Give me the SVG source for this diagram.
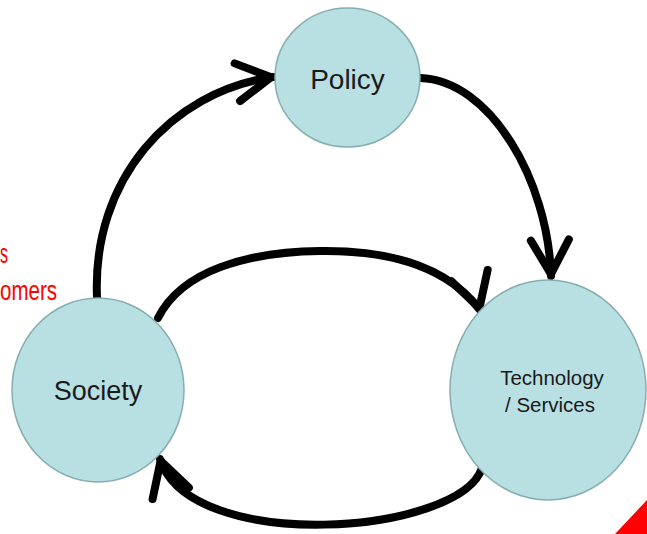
<svg xmlns="http://www.w3.org/2000/svg" width="647" height="534" viewBox="0 0 647 534">
<style>
.node{fill:#b8dfe2;stroke:#86aeb0;stroke-width:1.5}
.lbl{font-family:"Liberation Sans",Arial,sans-serif;fill:#1a1a1a;text-anchor:middle}
.conn{fill:none;stroke:#000;stroke-width:8;stroke-linecap:round}
.red{font-family:"Liberation Sans",Arial,sans-serif;fill:#ff0000;font-size:28px;text-anchor:end}
.head{fill:none;stroke:#000;stroke-width:8;stroke-linecap:round;stroke-linejoin:miter}
</style>
<defs>
<marker id="arr" markerUnits="userSpaceOnUse" markerWidth="100" markerHeight="100" viewBox="-50 -50 100 100" refX="0" refY="0" orient="auto" overflow="visible">
<path class="head" d="M-36,-19 L-2,0 L-36,19"/>
</marker>
<marker id="arr73" markerUnits="userSpaceOnUse" markerWidth="100" markerHeight="100" viewBox="-50 -50 100 100" refX="0" refY="0" orient="73" overflow="visible">
<path class="head" d="M-36,-19 L-2,0 L-36,19"/>
</marker>
</defs>
<rect width="647" height="534" fill="#fff"/>
<g id="connectors">
<path class="conn" d="M97,297 C92,180 170,92 273,77" marker-end="url(#arr)"/>
<path class="conn" d="M420,78 C490,80 548,180 551,276" marker-end="url(#arr)"/>
<path class="conn" d="M158,318 C182,270 248,252 320,251 C396,250 450,270 480,310" marker-end="url(#arr73)"/>
<path class="conn" d="M482,468 C460,535 190,555 160,459" marker-end="url(#arr)"/>
</g>
<g id="policy">
<ellipse class="node" cx="347.5" cy="77.5" rx="72.5" ry="69.5"/>
<text class="lbl" x="347.5" y="89" font-size="28">Policy</text>
</g>
<g id="society">
<ellipse class="node" cx="98" cy="390" rx="86" ry="92"/>
<text class="lbl" x="98" y="400" font-size="27">Society</text>
</g>
<g id="technology">
<ellipse class="node" cx="548" cy="390" rx="98" ry="110"/>
<text class="lbl" x="552" y="385" font-size="20.5">Technology</text>
<text class="lbl" x="550" y="412" font-size="20.5">/ Services</text>
</g>
<g id="side-text">
<text class="red" x="8" y="263" textLength="8" lengthAdjust="spacingAndGlyphs">s</text>
<text class="red" x="57" y="300" textLength="57" lengthAdjust="spacingAndGlyphs">omers</text>
</g>
<polygon points="647,500 647,534 615,534" fill="#ff0000"/>
</svg>
